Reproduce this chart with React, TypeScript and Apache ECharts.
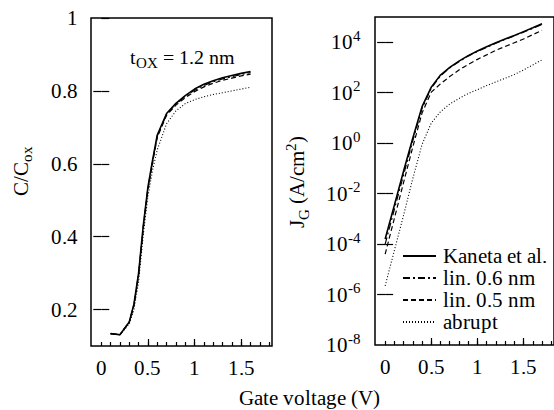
import React, { useEffect, useRef } from "react";
import * as echarts from "echarts";

// ---- Left panel: normalized capacitance C/Cox vs gate voltage ----
const capVoltage = [0.1, 0.2, 0.3, 0.35, 0.4, 0.45, 0.5, 0.55, 0.6, 0.7, 0.8, 0.9, 1.0, 1.1, 1.2, 1.3, 1.4, 1.5, 1.6];
const capKaneta = [0.134, 0.131, 0.166, 0.215, 0.3, 0.43, 0.536, 0.61, 0.679, 0.738, 0.766, 0.787, 0.805, 0.818, 0.828, 0.836, 0.842, 0.848, 0.853];
const capLin06 = [0.134, 0.131, 0.166, 0.213, 0.297, 0.427, 0.533, 0.607, 0.676, 0.736, 0.764, 0.785, 0.802, 0.815, 0.825, 0.833, 0.839, 0.845, 0.85];
const capLin05 = [0.134, 0.131, 0.165, 0.21, 0.292, 0.42, 0.527, 0.602, 0.672, 0.733, 0.761, 0.781, 0.798, 0.811, 0.821, 0.829, 0.835, 0.841, 0.846];
const capAbrupt = [0.134, 0.131, 0.16, 0.2, 0.275, 0.405, 0.51, 0.583, 0.638, 0.71, 0.745, 0.765, 0.776, 0.784, 0.79, 0.795, 0.8, 0.805, 0.81];

// ---- Right panel: gate current density J_G (A/cm^2) vs gate voltage ----
const jgVoltage = [0, 0.1, 0.2, 0.3, 0.4, 0.5, 0.6, 0.7, 0.8, 0.9, 1.0, 1.1, 1.2, 1.3, 1.4, 1.5, 1.6, 1.7];
const jgKaneta = [1.6e-4, 3.5e-3, 7.9e-2, 1.6, 28, 166, 500, 1000, 1780, 2950, 4470, 6610, 9550, 1.35e4, 1.86e4, 2.63e4, 3.72e4, 5.37e4];
const jgLin06 = [1.0e-4, 2.4e-3, 5.6e-2, 1.26, 24, 151, 468, 955, 1700, 2820, 4270, 6310, 9120, 1.29e4, 1.78e4, 2.51e4, 3.55e4, 5.13e4];
const jgLin05 = [4.0e-5, 1.05e-3, 2.8e-2, 0.71, 15.8, 105, 224, 437, 794, 1320, 2090, 3160, 4790, 6760, 9550, 1.35e4, 2.0e4, 2.95e4];
const jgAbrupt = [2.2e-6, 5.6e-5, 1.4e-3, 4.0e-2, 0.89, 6.3, 17.8, 35.5, 58.9, 93, 132, 191, 269, 372, 525, 794, 1260, 2000];

const seriesNames = ["Kaneta et al.", "lin. 0.6 nm", "lin. 0.5 nm", "abrupt"];

// ---- Tick values ----
const xLabelTicks = [0, 0.5, 1, 1.5];
const xMajorTicks = [0.5, 1, 1.5];
const xMinorTicks = [0, 0.1, 0.2, 0.3, 0.4, 0.5, 0.6, 0.7, 0.8, 0.9, 1, 1.1, 1.2, 1.3, 1.4, 1.5, 1.6, 1.7, 1.8];
const capTicks = [0.2, 0.4, 0.6, 0.8, 1];
const capRightTicks = [0.2, 0.4, 0.6, 0.8];
const jgTicks = [1e-8, 1e-6, 1e-4, 1e-2, 1, 1e2, 1e4];

// single-word alias for the installed Times-like font
const FONT = "TimesX";
const FONT_FACE = `@font-face { font-family: "TimesX"; src: local("Liberation Serif"), local("LiberationSerif"), local("Liberation Serif Regular"); }`;
const FS = 21;
const FS_SMALL = 15;
const X_MIN = -0.11;
const X_MAX = 1.83;

const lineStyles: any[] = [
  { color: "#000", width: 1.6, type: "solid" },
  { color: "#000", width: 1.2, type: [7, 3, 2, 3] },
  { color: "#000", width: 1.2, type: [5, 3] },
  { color: "#000", width: 1.1, type: [1, 2] },
];

function pair(xs: number[], ys: number[]) {
  return xs.map((x, i) => [x, ys[i]]);
}

function buildOption(): any {
  const xMain = (grid: number) => ({
    type: "value", gridIndex: grid, position: "bottom", min: X_MIN, max: X_MAX,
    axisLine: { show: false }, splitLine: { show: false },
    axisTick: { show: true, inside: true, length: 7, customValues: xMajorTicks, lineStyle: { color: "#000", width: 1.2 } },
    axisLabel: { show: true, customValues: xLabelTicks, margin: 11, color: "#000", fontFamily: FONT, fontSize: FS, formatter: (v: number) => String(v) },
  });
  const xMinor = (grid: number) => ({
    type: "value", gridIndex: grid, position: "bottom", min: X_MIN, max: X_MAX,
    axisLine: { show: false }, splitLine: { show: false },
    axisTick: { show: true, inside: true, length: 4, customValues: xMinorTicks, lineStyle: { color: "#000", width: 1.2 } },
    axisLabel: { show: false },
  });
  const rightTicks = (grid: number, type: string, min: number, max: number, ticks: number[]) => ({
    type, gridIndex: grid, position: "right", min, max,
    axisLine: { show: false }, splitLine: { show: false },
    axisTick: { show: true, inside: true, length: 8, customValues: ticks, lineStyle: { color: "#000", width: 1.2 } },
    axisLabel: { show: false },
  });

  return {
    animation: false,
    backgroundColor: "#fff",
    textStyle: { fontFamily: FONT, color: "#000" },
    grid: [
      { left: 91, top: 18, width: 181, height: 328, show: true, borderColor: "#000", borderWidth: 1.5, backgroundColor: "transparent" },
      { left: 375, top: 17, width: 185, height: 328, show: true, borderColor: "#000", borderWidth: 1.5, backgroundColor: "transparent" },
    ],
    xAxis: [xMain(0), xMinor(0), xMain(1), xMinor(1)],
    yAxis: [
      {
        type: "value", gridIndex: 0, position: "left", min: 0.1, max: 1,
        axisLine: { show: false }, splitLine: { show: false },
        axisTick: { show: true, inside: true, length: 8, customValues: capTicks, lineStyle: { color: "#000", width: 1.2 } },
        axisLabel: { customValues: capTicks, margin: 13, color: "#000", fontFamily: FONT, fontSize: FS, formatter: (v: number) => String(v) },
      },
      rightTicks(0, "value", 0.1, 1, capRightTicks),
      {
        type: "log", logBase: 10, gridIndex: 1, position: "left", min: 1e-8, max: 1e5,
        axisLine: { show: false }, splitLine: { show: false },
        axisTick: { show: true, inside: true, length: 8, customValues: jgTicks.slice(1), lineStyle: { color: "#000", width: 1.2 } },
        axisLabel: {
          customValues: jgTicks, margin: 14, color: "#000", fontFamily: FONT, fontSize: FS,
          formatter: (v: number) => `{b|10}{s|${Math.round(Math.log10(v))}}`,
          rich: {
            b: { fontFamily: FONT, fontSize: FS, lineHeight: 28, color: "#000" },
            s: { fontFamily: FONT, fontSize: FS_SMALL, lineHeight: 14, verticalAlign: "top", color: "#000" },
          },
        },
      },
      rightTicks(1, "log", 1e-8, 1e5, jgTicks.slice(1)),
    ],
    legend: {
      show: true, orient: "vertical", left: 397, top: 240, itemWidth: 33, itemHeight: 14, itemGap: 0,
      data: seriesNames, itemStyle: { opacity: 0 },
      textStyle: { fontFamily: FONT, fontSize: FS, color: "#000", lineHeight: 22, padding: [0, 0, 0, 2] },
    },
    series: [
      ...[capKaneta, capLin06, capLin05, capAbrupt].map((ys, i) => ({
        type: "line", name: seriesNames[i], xAxisIndex: 0, yAxisIndex: 0, data: pair(capVoltage, ys),
        symbol: "none", showSymbol: false, lineStyle: lineStyles[i], itemStyle: { color: "#000" }, z: 4 - i,
      })),
      ...[jgKaneta, jgLin06, jgLin05, jgAbrupt].map((ys, i) => ({
        type: "line", name: seriesNames[i], xAxisIndex: 2, yAxisIndex: 2, data: pair(jgVoltage, ys),
        symbol: "none", showSymbol: false, lineStyle: lineStyles[i], itemStyle: { color: "#000" }, z: 4 - i,
      })),
    ],
    graphic: [
      {
        type: "text", x: 21, y: 171, rotation: Math.PI / 2,
        style: {
          text: "{a|C/C}{b|ox}", textAlign: "center", textVerticalAlign: "middle",
          rich: {
            a: { fontFamily: FONT, fontSize: FS, lineHeight: 26, fill: "#000" },
            b: { fontFamily: FONT, fontSize: FS_SMALL, lineHeight: 15, verticalAlign: "bottom", fill: "#000" },
          },
        },
      },
      {
        type: "text", x: 297, y: 182, rotation: Math.PI / 2,
        style: {
          text: "{a|J}{b|G}{a| (A/cm}{c|2}{a|)}", textAlign: "center", textVerticalAlign: "middle",
          rich: {
            a: { fontFamily: FONT, fontSize: FS, lineHeight: 28, fill: "#000" },
            b: { fontFamily: FONT, fontSize: FS_SMALL, lineHeight: 15, verticalAlign: "bottom", fill: "#000" },
            c: { fontFamily: FONT, fontSize: FS_SMALL, lineHeight: 15, verticalAlign: "top", fill: "#000" },
          },
        },
      },
      {
        type: "text", x: 130, y: 57,
        style: {
          text: "{a|t}{b|OX}{a| = 1.2 nm}", textAlign: "left", textVerticalAlign: "middle",
          rich: {
            a: { fontFamily: FONT, fontSize: 20, lineHeight: 26, fill: "#000" },
            b: { fontFamily: FONT, fontSize: FS_SMALL, lineHeight: 15, verticalAlign: "bottom", fill: "#000" },
          },
        },
      },
      {
        type: "text", x: 309, y: 398,
        style: { text: "Gate voltage (V)", textAlign: "center", textVerticalAlign: "middle", fontFamily: FONT, fontSize: FS, fill: "#000" },
      },
    ],
  };
}

export default function App() {
  const ref = useRef<HTMLDivElement>(null);
  useEffect(() => {
    if (!ref.current) return;
    const styleEl = document.createElement("style");
    styleEl.textContent = FONT_FACE;
    document.head.appendChild(styleEl);
    let chart: any = null;
    let disposed = false;
    const start = () => {
      if (disposed || !ref.current) return;
      chart = echarts.init(ref.current, null, { renderer: "svg" });
      chart.setOption(buildOption());
    };
    const fonts: any = (document as any).fonts;
    if (fonts && fonts.load) fonts.load(`${FS}px ${FONT}`).then(start, start);
    else start();
    return () => {
      disposed = true;
      if (chart) chart.dispose();
      styleEl.remove();
    };
  }, []);

  return <div ref={ref} style={{ position: "absolute", left: 0, top: 0, width: 554, height: 410 }} />;
}
